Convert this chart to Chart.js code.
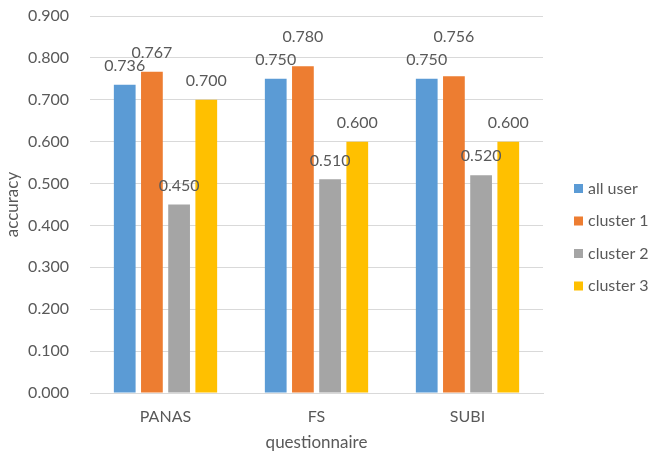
<!DOCTYPE html>
<html>
<head>
<meta charset="utf-8">
<script src="https://cdn.jsdelivr.net/npm/chart.js@4/dist/chart.umd.min.js"></script>
<style>
  html, body { margin: 0; padding: 0; background: #ffffff; }
  #wrap { width: 648px; height: 455px; position: relative; }
</style>
</head>
<body>
<div id="wrap"><canvas id="chart"></canvas></div>
<script>
// Questionnaire accuracy per user group
const categories = ['PANAS', 'FS', 'SUBI'];
const seriesNames = ['all user', 'cluster 1', 'cluster 2', 'cluster 3'];
const allUser  = [0.736, 0.750, 0.750];
const cluster1 = [0.767, 0.780, 0.756];
const cluster2 = [0.450, 0.510, 0.520];
const cluster3 = [0.700, 0.600, 0.600];
const yTickLabels = ['0.000', '0.100', '0.200', '0.300', '0.400', '0.500', '0.600', '0.700', '0.800', '0.900'];

const seriesValues = [allUser, cluster1, cluster2, cluster3];
const seriesColors = ['#5B9BD5', '#ED7D31', '#A5A5A5', '#FFC000'];

const FONT = 'Lato, "Open Sans", sans-serif';
const TEXT = '#595959';
const GRID = '#D9D9D9';

// Value labels above each bar; a label that would collide with one already
// placed in the same group is lifted above it.
const valueLabels = {
  id: 'valueLabels',
  afterDatasetsDraw(chart) {
    const ctx = chart.ctx;
    ctx.save();
    ctx.font = '16px ' + FONT;
    ctx.fillStyle = TEXT;
    ctx.textAlign = 'center';
    ctx.textBaseline = 'middle';
    const minGap = 12.8, lift = 23, above = 19;
    categories.forEach((cat, i) => {
      const placed = [];
      chart.data.datasets.forEach((ds, d) => {
        const bar = chart.getDatasetMeta(d).data[i];
        const text = ds.data[i].toFixed(3);
        const w = ctx.measureText(text).width;
        let cy = bar.y - above;
        placed.forEach(p => {
          const hOverlap = Math.abs(p.x - bar.x) < (p.w + w) / 2;
          if (hOverlap && Math.abs(p.cy - cy) < minGap) cy = Math.min(cy, p.cy - lift);
        });
        ctx.fillText(text, bar.x, cy);
        placed.push({ x: bar.x, cy, w });
      });
    });
    ctx.restore();
  }
};

// Legend drawn in a column to the right of the plot
const sideLegend = {
  id: 'sideLegend',
  afterDraw(chart) {
    const ctx = chart.ctx;
    ctx.save();
    ctx.font = '16px ' + FONT;
    ctx.textBaseline = 'middle';
    ctx.textAlign = 'left';
    const x0 = chart.chartArea.right + 31, y0 = 188.5, step = 32.5, box = 9;
    chart.data.datasets.forEach((ds, d) => {
      const y = y0 + d * step;
      ctx.fillStyle = ds.backgroundColor;
      ctx.fillRect(x0, y - box / 2, box, box);
      ctx.fillStyle = TEXT;
      ctx.fillText(ds.label, x0 + box + 5, y);
    });
    ctx.restore();
  }
};

new Chart(document.getElementById('chart'), {
  type: 'bar',
  data: {
    labels: categories,
    datasets: seriesNames.map((name, d) => ({
      label: name,
      data: seriesValues[d],
      backgroundColor: seriesColors[d],
      borderWidth: 0,
      categoryPercentage: 0.72,
      barPercentage: 0.8
    }))
  },
  options: {
    responsive: true,
    maintainAspectRatio: false,
    animation: false,
    layout: { padding: { top: 16, right: 105, bottom: 0, left: 0 } },
    plugins: {
      legend: { display: false },
      tooltip: { enabled: false }
    },
    scales: {
      x: {
        grid: { display: false, drawTicks: false },
        border: { display: true, color: GRID, width: 1 },
        ticks: { color: TEXT, font: { family: FONT, size: 16 }, padding: 14 },
        title: { display: true, text: 'questionnaire', color: TEXT, font: { family: FONT, size: 17 }, padding: { top: 0, bottom: 2 } },
        afterFit(scale) { scale.height = 62; }
      },
      y: {
        min: 0,
        max: 0.9,
        grid: { color: GRID, lineWidth: 1, drawTicks: true, tickLength: 17, tickColor: 'rgba(0,0,0,0)' },
        border: { display: false },
        ticks: {
          stepSize: 0.1,
          color: TEXT,
          font: { family: FONT, size: 16 },
          padding: 4,
          callback: (v, idx) => yTickLabels[idx]
        },
        title: { display: true, text: 'accuracy', color: TEXT, font: { family: FONT, size: 17 }, padding: { top: 2, bottom: 0 } },
        afterFit(scale) { scale.width = 90; }
      }
    }
  },
  plugins: [valueLabels, sideLegend]
});
</script>
</body>
</html>
